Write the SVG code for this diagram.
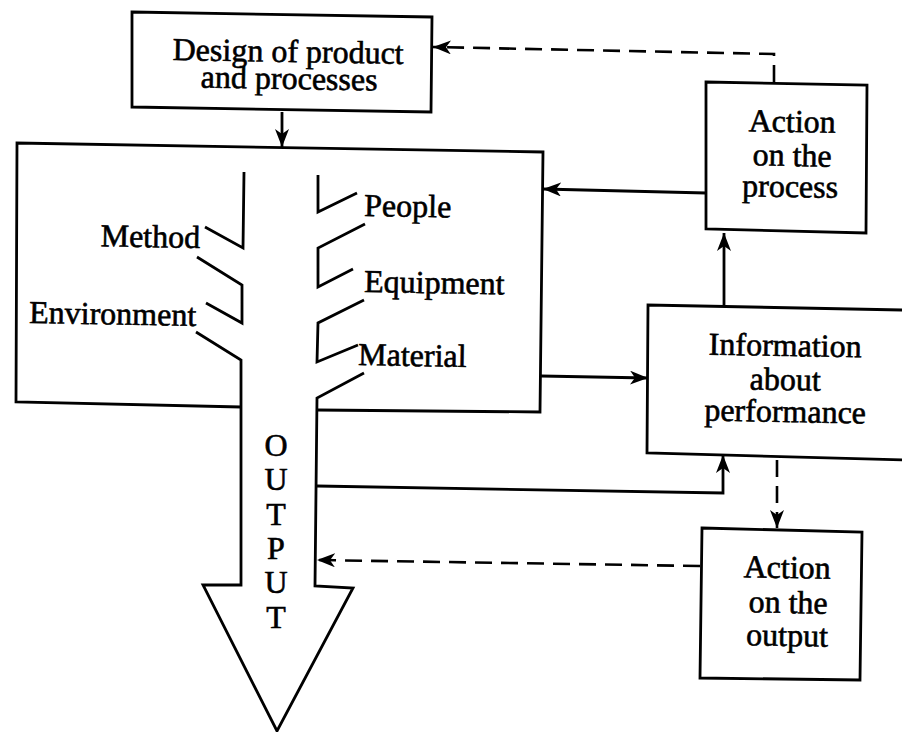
<svg xmlns="http://www.w3.org/2000/svg" width="902" height="732" viewBox="0 0 902 732">
<style>
.ln{fill:none;stroke:#000;stroke-width:2.8;stroke-linejoin:miter;stroke-linecap:butt}
.dash{fill:none;stroke:#000;stroke-width:2.6;stroke-dasharray:17 9}
.box{fill:#fff;stroke:#000;stroke-width:2.8}
.t{font-family:"Liberation Serif","Times New Roman",serif;font-size:32px;fill:#000;stroke:#000;stroke-width:0.6}
.c{text-anchor:middle}
</style>
<defs>
<marker id="ah" markerUnits="userSpaceOnUse" markerWidth="20" markerHeight="16" refX="18" refY="7" orient="auto" viewBox="0 0 20 16">
<path d="M0,0 L18,7 L0,14 L5,7 z" fill="#000"/>
</marker>
</defs>
<rect width="902" height="732" fill="#fff"/>

<g id="design">
<polygon class="box" points="132,12 432,17 431,112 132,107"/>
<text class="t c" x="288" y="62" transform="rotate(1 288 62)" font-size="33">Design of product</text>
<text class="t c" x="289" y="89" transform="rotate(1 289 89)" font-size="33">and processes</text>
</g>

<g id="process">
<path class="ln" d="M241,407 L16,402 L17,143 L543,152 L540,412 L317,410"/>
<path class="ln" d="M244,172 L243,248 L205,227"/>
<path class="ln" d="M197,257 L242,285 L242,323 L206,303"/>
<path class="ln" d="M196,332 L241,360 L241,585 L203,585 L277,731 L353,588 L315,586 L317,398 L364,373"/>
<path class="ln" d="M358,345 L317,362 L318,323 L364,300"/>
<path class="ln" d="M353,269 L318,287 L318,248 L365,224"/>
<path class="ln" d="M357,193 L318,212 L318,175"/>
<text class="t" x="200" y="248" text-anchor="end" transform="rotate(1 200 248)">Method</text>
<text class="t" x="29" y="323" transform="rotate(1 29 323)">Environment</text>
<text class="t" x="364" y="216" transform="rotate(1 364 216)">People</text>
<text class="t" x="364" y="292" transform="rotate(1 364 292)">Equipment</text>
<text class="t" x="358" y="365" transform="rotate(1 358 365)">Material</text>
<g class="t c" font-size="32">
<text x="276" y="456">O</text>
<text x="276" y="490">U</text>
<text x="276" y="525">T</text>
<text x="276" y="559">P</text>
<text x="276" y="593">U</text>
<text x="276" y="628">T</text>
</g>
</g>

<g id="action-process">
<polygon class="box" points="706,82 867,85 866,233 706,229"/>
<text class="t c" x="792" y="132" transform="rotate(1 792 132)">Action</text>
<text class="t c" x="792" y="166" transform="rotate(1 792 166)">on the</text>
<text class="t c" x="790" y="197" transform="rotate(1 790 197)">process</text>
</g>

<g id="information">
<path class="box" d="M903,310 L648,305 L647,453 L903,460"/>
<text class="t c" x="785" y="356" transform="rotate(1 785 356)">Information</text>
<text class="t c" x="785" y="390" transform="rotate(1 785 390)">about</text>
<text class="t c" x="785" y="422" transform="rotate(1 785 422)">performance</text>
</g>

<g id="action-output">
<polygon class="box" points="702,528 862,532 860,680 700,678"/>
<text class="t c" x="787" y="578" transform="rotate(1 787 578)">Action</text>
<text class="t c" x="788" y="613" transform="rotate(1 788 613)">on the</text>
<text class="t c" x="787" y="646" transform="rotate(1 787 646)">output</text>
</g>

<g id="connectors">
<path class="ln" d="M282,112 L282,147" marker-end="url(#ah)"/>
<path class="ln" d="M706,193 L543,189" marker-end="url(#ah)"/>
<path class="dash" d="M774,82 L774,54 L433,47" marker-end="url(#ah)"/>
<path class="ln" d="M724,305 L724,233" marker-end="url(#ah)"/>
<path class="ln" d="M541,376 L648,378" marker-end="url(#ah)"/>
<path class="ln" d="M317,486 L723,493 L723,455" marker-end="url(#ah)"/>
<path class="dash" d="M777,460 L777,528" marker-end="url(#ah)"/>
<path class="dash" d="M700,566 L317,560" marker-end="url(#ah)"/>
</g>
</svg>
